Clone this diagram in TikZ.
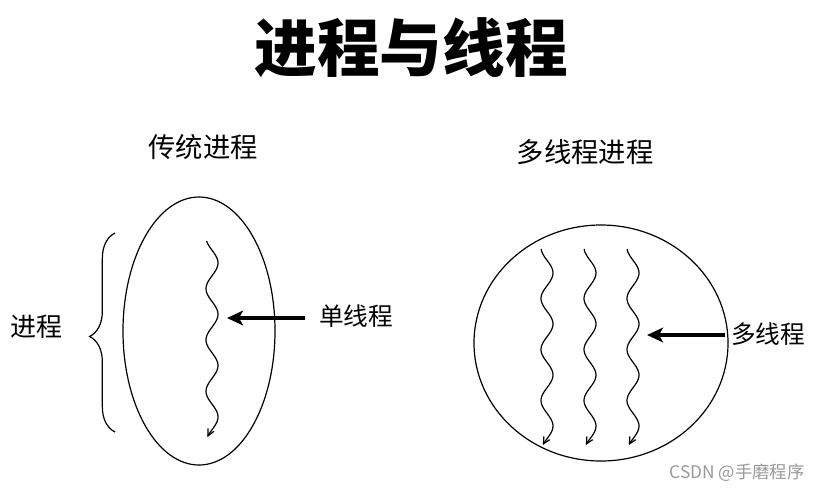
\documentclass[tikz,border=0pt]{standalone}
\usepackage{fontspec}
\newfontfamily\cjk{Noto Sans CJK SC}
\usetikzlibrary{arrows.meta,decorations.pathreplacing}
\begin{document}
\begin{tikzpicture}[x=0.75pt,y=-0.75pt,
  txt/.style={font=\cjk, inner sep=0pt, anchor=center},
  wave/.style={line width=0.9pt, -{Straight Barb[length=5pt,width=5pt]}},
  bigarrow/.style={line width=3pt, -{Stealth[length=12pt,width=11pt,inset=3pt]}},
  oval/.style={line width=0.9pt}]
\useasboundingbox (0,0) rectangle (827,494);
% title and subtitles
\node[txt, font=\cjk\fontsize{47}{50}\selectfont\bfseries] (title) at (411,48) {进程与线程};
\node[txt, font=\cjk\fontsize{20.5}{24}\selectfont] (sub1) at (203,147) {传统进程};
\node[txt, font=\cjk\fontsize{20.5}{24}\selectfont] (sub2) at (585,152) {多线程进程};
% ellipses
\draw[oval] (199,331) ellipse [x radius=76, y radius=134];
\draw[oval] (601,343) ellipse [x radius=127, y radius=118];
% brace
\coordinate (bb) at (115,432);
\coordinate (bt) at (115,233);
\draw[line width=0.9pt, decorate, decoration={brace, amplitude=19pt, aspect=0.48}] (bb) -- (bt);
\node[txt, font=\cjk\fontsize{19.5}{24}\selectfont] (proc) at (37,327) {进程};
% waves
\draw[wave] plot[domain=241:437, samples=120, smooth] ({212+6*cos(7.0175*(\x-263))}, \x);
\foreach \c in {547,590,633}{
  \draw[wave] plot[domain=249:445, samples=120, smooth] ({\c+6*cos(7.0588*(\x-273))}, \x);
}
% labels and arrows
\node[txt, font=\cjk\fontsize{18.5}{22}\selectfont] (lbl1) at (356,316) {单线程};
\node[txt, font=\cjk\fontsize{18.5}{22}\selectfont] (lbl2) at (768,334) {多线程};
\coordinate (w1) at (227,318);
\coordinate (w2) at (647,335);
\draw[bigarrow, shorten <=10pt] (lbl1.west |- w1) -- (w1);
\draw[bigarrow, shorten <=4pt] (lbl2.west |- w2) -- (w2);
% watermark
\node[txt, font=\cjk\fontsize{13}{15}\selectfont, text=black!40] (wm) at (737,473) {CSDN @手磨程序};
\end{tikzpicture}
\end{document}
